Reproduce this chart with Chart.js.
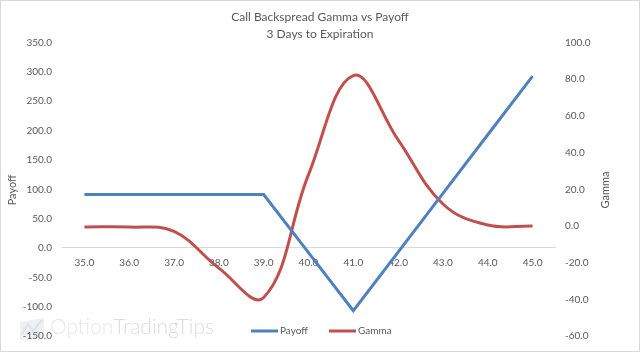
<!DOCTYPE html>
<html>
<head>
<meta charset="utf-8">
<script src="https://cdn.jsdelivr.net/npm/chart.js@4"></script>
<style>
body { margin: 0; background: #fff; }
#wrap { width: 640px; height: 352px; }
</style>
</head>
<body>
<div id="wrap"><canvas id="chart" width="640" height="352"></canvas></div>
<script>
var strikes = ["35.0", "36.0", "37.0", "38.0", "39.0", "40.0", "41.0", "42.0", "43.0", "44.0", "45.0"];
var payoff = [91, 91, 91, 91, 91, -8, -107, -7, 93, 193, 293];
var gamma = [-0.5, -0.6, -3, -23, -39, 28, 82, 47, 12, 0.5, 0];
var titleLines = ["Call Backspread Gamma vs Payoff", "3 Days to Expiration"];

var FONT = "Lato, 'Liberation Sans', sans-serif";
var GREY = "#595959";
var BLUE = "#4f81bd";
var RED = "#c0504d";

function fmt(v) { return Number(v).toFixed(1); }

// white bg, outer frame and the faint watermark
var frame = {
    id: "frame",
    beforeDraw: function(chart) {
        var ctx = chart.ctx;
        ctx.save();
        ctx.fillStyle = "#fff";
        ctx.fillRect(0, 0, chart.width, chart.height);
        ctx.strokeStyle = "#d9d9d9";
        ctx.lineWidth = 1;
        ctx.strokeRect(0.5, 0.5, chart.width - 1, chart.height - 1);

        // logo-ish mark
        ctx.fillStyle = "#eef0f4";
        ctx.beginPath();
        ctx.moveTo(20, 322); ctx.lineTo(44, 318); ctx.lineTo(44, 338); ctx.lineTo(20, 340);
        ctx.closePath();
        ctx.fill();
        ctx.strokeStyle = "#dde1ea";
        ctx.lineWidth = 2;
        ctx.beginPath();
        ctx.moveTo(22, 334); ctx.lineTo(28, 324); ctx.lineTo(33, 331); ctx.lineTo(42, 320);
        ctx.stroke();

        ctx.font = "300 21px " + FONT;
        ctx.textBaseline = "alphabetic";
        ctx.fillStyle = "#e8e8e8";
        ctx.fillText("Option", 50, 334);
        var w = ctx.measureText("Option").width;
        ctx.fillStyle = "#dcdcdc";
        ctx.fillText("TradingTips", 50 + w, 334);
        ctx.restore();
    },
    afterDraw: function(chart) {
        var ctx = chart.ctx;
        ctx.save();
        ctx.fillStyle = GREY;
        ctx.font = "11px " + FONT;
        ctx.textAlign = "center";
        ctx.textBaseline = "middle";
        // both axis titles read bottom to top
        ctx.translate(12, 190);
        ctx.rotate(-Math.PI / 2);
        ctx.fillText("Payoff", 0, 0);
        ctx.restore();
        ctx.save();
        ctx.fillStyle = GREY;
        ctx.font = "11px " + FONT;
        ctx.textAlign = "center";
        ctx.textBaseline = "middle";
        ctx.translate(605, 190);
        ctx.rotate(-Math.PI / 2);
        ctx.fillText("Gamma", 0, 0);
        ctx.restore();

        // legend, from the datasets
        ctx.save();
        ctx.font = "10px " + FONT;
        ctx.textBaseline = "middle";
        var x = 251, y = 331;
        chart.data.datasets.forEach(function(ds) {
            ctx.strokeStyle = ds.borderColor;
            ctx.lineWidth = 3;
            ctx.beginPath();
            ctx.moveTo(x, y); ctx.lineTo(x + 27, y);
            ctx.stroke();
            ctx.fillStyle = GREY;
            ctx.fillText(ds.label, x + 29, y);
            x += 78;
        });
        ctx.restore();
    }
};

var tickFont = { family: FONT, size: 10 };

new Chart(document.getElementById("chart"), {
    type: "line",
    data: {
        labels: strikes,
        datasets: [
            { label: "Payoff", data: payoff, yAxisID: "y", borderColor: BLUE, backgroundColor: BLUE,
              borderWidth: 3, pointRadius: 0, tension: 0 },
            { label: "Gamma", data: gamma, yAxisID: "y1", borderColor: RED, backgroundColor: RED,
              borderWidth: 3, pointRadius: 0, tension: 0.4 }
        ]
    },
    options: {
        responsive: false,
        animation: false,
        layout: { padding: { top: 0, bottom: 15, left: 0, right: 0 } },
        plugins: {
            legend: { display: false },
            tooltip: { enabled: false },
            title: {
                display: true,
                text: titleLines,
                color: GREY,
                font: { family: FONT, size: 12, weight: "normal", lineHeight: 1.4 },
                padding: { top: 9, bottom: 0 }
            }
        },
        scales: {
            x: {
                position: { y: 0 },
                offset: true,
                grid: { display: true, drawOnChartArea: false, drawTicks: false, color: "transparent" },
                border: { display: true, color: "#d9d9d9", width: 1 },
                ticks: { color: GREY, font: tickFont, padding: 9, maxRotation: 0 }
            },
            y: {
                position: "left",
                min: -150, max: 350,
                grid: { display: false, drawTicks: false },
                border: { display: false },
                ticks: { stepSize: 50, color: GREY, font: tickFont, padding: 10, callback: fmt },
                afterFit: function(s) { s.width = 62; }
            },
            y1: {
                position: "right",
                min: -60, max: 100,
                grid: { display: false, drawTicks: false },
                border: { display: false },
                ticks: { stepSize: 20, color: GREY, font: tickFont, padding: 10, callback: fmt },
                afterFit: function(s) { s.width = 85; }
            }
        }
    },
    plugins: [frame]
});
</script>
</body>
</html>
